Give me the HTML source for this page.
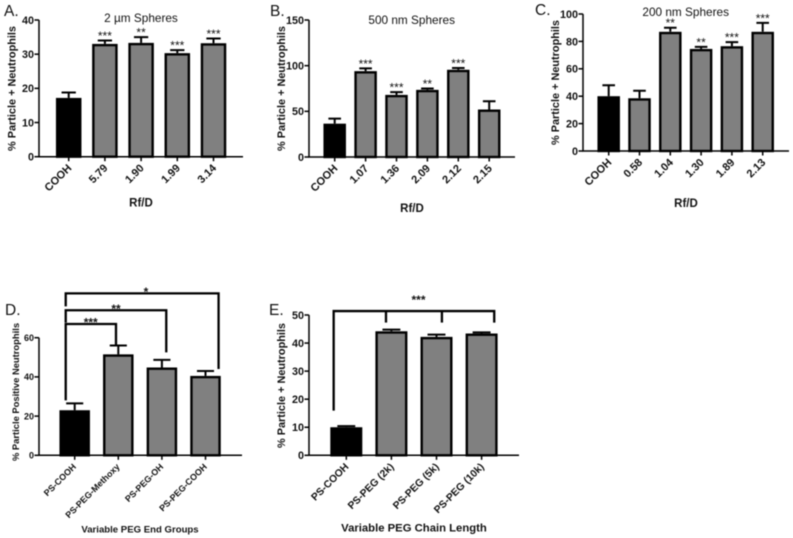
<!DOCTYPE html>
<html lang="en">
<head>
<meta charset="utf-8">
<title>Particle positive neutrophils by sphere type</title>
<style>
html,body{margin:0;padding:0;background:#fff;width:793px;height:538px;overflow:hidden}
svg{display:block;filter:blur(0.4px)}
text{font-family:"Liberation Sans",Arial,sans-serif;fill:#111}
</style>
</head>
<body>
<svg id="figure" xmlns="http://www.w3.org/2000/svg" width="793" height="538" viewBox="0 0 793 538"></svg>
<script>
// Panel A
const catsA = ["COOH", "5.79", "1.90", "1.99", "3.14"];
const valsA = [17.2, 33, 33.3, 30.3, 33.2];
const errsA = [18.8, 34, 35, 31.2, 34.6];
const starsA = ["", "***", "**", "***", "***"];
const ticksA = [0, 10, 20, 30, 40];
// Panel B
const catsB = ["COOH", "1.07", "1.36", "2.09", "2.12", "2.15"];
const valsB = [36.5, 94, 68, 73.5, 95.5, 52];
const errsB = [42, 97, 71, 75, 97.5, 61];
const starsB = ["", "***", "***", "**", "***", ""];
const ticksB = [0, 50, 100, 150];
// Panel C
const catsC = ["COOH", "0.58", "1.04", "1.30", "1.89", "2.13"];
const valsC = [40, 38.5, 87, 74.5, 76.5, 87];
const errsC = [48, 44, 90, 76, 79.5, 93.5];
const starsC = ["", "", "**", "**", "***", "***"];
const ticksC = [0, 20, 40, 60, 80, 100];
// Panel D
const catsD = ["PS-COOH", "PS-PEG-Methoxy", "PS-PEG-OH", "PS-PEG-COOH"];
const valsD = [23, 51.5, 44.8, 40.5];
const errsD = [26.5, 56, 48.7, 43];
const starsD = ["", "", "", ""];
const ticksD = [0, 20, 40, 60];
// Panel E
const catsE = ["PS-COOH", "PS-PEG (2k)", "PS-PEG (5k)", "PS-PEG (10k)"];
const valsE = [10, 44.2, 42.2, 43.4];
const errsE = [10.4, 44.8, 43, 43.8];
const starsE = ["", "", "", ""];
const ticksE = [0, 10, 20, 30, 40, 50];

const svg = document.getElementById('figure');
const NS = 'http://www.w3.org/2000/svg';

function make(tag, attrs, parent, txt) {
  const el = document.createElementNS(NS, tag);
  for (const k in attrs) el.setAttribute(k, attrs[k]);
  if (txt !== undefined) el.textContent = txt;
  parent.appendChild(el);
  return el;
}
function label(tag, attrs, parent, txt, name) {
  const el = make(tag, attrs, parent, txt);
  
  
  return el;
}

function drawPanel(p) {
  const g = make('g', {}, svg);
  
  
  const y = v => p.y0 + (p.yTop - p.y0) * v / p.max;
  const x = i => p.x0 + p.dx * i;
  p.xOf = x; p.yOf = y;

  label('text', {x: p.letter[0], y: p.letter[1], 'font-size': 15.5}, g, p.id + '.', 'panel-letter-' + p.id);
  if (p.title) label('text', {x: p.titleAt[0], y: p.titleAt[1], 'font-size': 11.8, 'text-anchor': 'middle', fill: '#222'}, g, p.title, 'chart-title-' + p.id);

  // bars
  p.vals.forEach((v, i) => {
    const top = y(p.errs[i]);
    const cap = p.barW * 0.28;
    const eb = make('path', {d: `M${x(i)} ${y(v)}V${top}M${x(i) - cap} ${top}H${x(i) + cap}`, fill: 'none', stroke: '#000', 'stroke-width': 2}, g);
    
    
    const b = make('rect', {x: x(i) - p.barW / 2 + 1.2, y: y(v) + 1.2, width: p.barW - 2.4, height: Math.max(0, p.y0 - y(v) - 1.2), fill: i === 0 ? '#000' : '#808080', stroke: '#000', 'stroke-width': 2.4}, g);
    
    
    if (p.stars[i]) label('text', {x: x(i), y: top - 0.5, 'font-size': 12, 'text-anchor': 'middle', fill: '#222'}, g, p.stars[i], 'significance-' + p.id + '-' + i);
  });

  // axes
  const ax = make('path', {d: `M${p.axisX} ${y(p.max)}V${p.y0}H${p.xEnd}`, fill: 'none', stroke: '#000', 'stroke-width': 1.5}, g);
  
  
  p.ticks.forEach(t => {
    const tk = make('line', {x1: p.axisX - 4.5, x2: p.axisX, y1: y(t), y2: y(t), stroke: '#000', 'stroke-width': 1.5}, g);
    
    
    label('text', {x: p.axisX - 5, y: y(t) + p.tickFont * 0.36, 'font-size': p.tickFont, 'font-weight': 'bold', 'text-anchor': 'end'}, g, t, 'y-tick-label-' + p.id + '-' + t);
  });
  p.cats.forEach((c, i) => {
    const tk = make('line', {x1: x(i), x2: x(i), y1: p.y0, y2: p.y0 + 4.5, stroke: '#000', 'stroke-width': 1.5}, g);
    
    
    const lx = x(i) + p.catShift, ly = p.y0 + 12;
    label('text', {x: lx, y: ly, 'font-size': p.catFont, 'font-weight': 'bold', 'text-anchor': 'end', transform: `rotate(-45 ${lx} ${ly})`}, g, c, 'x-tick-label-' + p.id + '-' + i);
  });

  const yl = p.ylabelAt;
  label('text', {x: yl[0], y: yl[1], 'font-size': p.ylabelFont, 'font-weight': 'bold', 'text-anchor': 'middle', transform: `rotate(-90 ${yl[0]} ${yl[1]})`}, g, p.ylabel, 'y-axis-title-' + p.id);
  label('text', {x: p.xlabelAt[0], y: p.xlabelAt[1], 'font-size': p.xlabelFont, 'font-weight': 'bold', 'text-anchor': 'middle'}, g, p.xlabel, 'x-axis-title-' + p.id);
  return g;
}

function bracket(p, g, level, leftI, leftEnd, rightI, rightEnd, name) {
  const Y = p.yOf(level), xa = p.xOf(leftI), xb = p.xOf(rightI);
  const b = make('path', {d: `M${xa} ${p.yOf(leftEnd)}V${Y}H${xb}V${p.yOf(rightEnd)}`, fill: 'none', stroke: '#000', 'stroke-width': 2.3}, g);
  
  
  return {xa, xb, Y};
}

drawPanel({id: 'A', cats: catsA, vals: valsA, errs: errsA, stars: starsA, ticks: ticksA, max: 40,
  x0: 68.7, dx: 36.2, barW: 25.5, axisX: 39, xEnd: 243, y0: 156.7, yTop: 20,
  letter: [4, 16], title: '2 \u00b5m Spheres', titleAt: [141, 22], tickFont: 10.8, catFont: 11, catShift: 3.5,
  ylabel: '% Particle + Neutrophils', ylabelAt: [15.5, 88.5], ylabelFont: 10.9,
  xlabel: 'Rf/D', xlabelAt: [141, 206.5], xlabelFont: 11.5});

drawPanel({id: 'B', cats: catsB, vals: valsB, errs: errsB, stars: starsB, ticks: ticksB, max: 150,
  x0: 334.7, dx: 30.9, barW: 22.5, axisX: 309, xEnd: 515, y0: 157, yTop: 20,
  letter: [270, 16], title: '500 nm Spheres', titleAt: [411.7, 24], tickFont: 10.8, catFont: 11, catShift: 3.5,
  ylabel: '% Particle + Neutrophils', ylabelAt: [285, 88.5], ylabelFont: 10.9,
  xlabel: 'Rf/D', xlabelAt: [412, 212], xlabelFont: 11.5});

drawPanel({id: 'C', cats: catsC, vals: valsC, errs: errsC, stars: starsC, ticks: ticksC, max: 100,
  x0: 608.7, dx: 30.8, barW: 22.5, axisX: 583, xEnd: 789, y0: 151, yTop: 14,
  letter: [535, 15], title: '200 nm Spheres', titleAt: [685.7, 16], tickFont: 10.8, catFont: 11, catShift: 3.5,
  ylabel: '% Particle + Neutrophils', ylabelAt: [559, 82.5], ylabelFont: 10.9,
  xlabel: 'Rf/D', xlabelAt: [686, 207], xlabelFont: 11.5});

const panelD = {id: 'D', cats: catsD, vals: valsD, errs: errsD, stars: starsD, ticks: ticksD, max: 60,
  x0: 74.7, dx: 43.6, barW: 30.5, axisX: 39, xEnd: 242, y0: 455.3, yTop: 337.7,
  letter: [5, 315], tickFont: 9, catFont: 8.9, catShift: 2,
  ylabel: '% Particle Positive Neutrophils', ylabelAt: [19, 392], ylabelFont: 9.4,
  xlabel: 'Variable PEG End Groups', xlabelAt: [140, 532.5], xlabelFont: 9.6};
const gD = drawPanel(panelD);

const panelE = {id: 'E', cats: catsE, vals: valsE, errs: errsE, stars: starsE, ticks: ticksE, max: 50,
  x0: 346.3, dx: 45.1, barW: 32, axisX: 309, xEnd: 519, y0: 455.3, yTop: 315,
  letter: [269, 315], tickFont: 10.8, catFont: 10.3, catShift: 3,
  ylabel: '% Particle + Neutrophils', ylabelAt: [285, 385.5], ylabelFont: 10.9,
  xlabel: 'Variable PEG Chain Length', xlabelAt: [414, 531.5], xlabelFont: 11.3};
const gE = drawPanel(panelE);

// Panel D significance brackets (levels in axis units, ends as category positions)
const bracketLevelsD = [82.6, 74, 67];
const bracketLeftEndsD = [76, 67.7, 28];
const bracketRightPosD = [3.3, 2.1, 0.947];
const bracketRightEndsD = [44, 52.5, 56];
const bracketMarksD = ["*", "**", "***"];
const bracketLeftPosD = -0.206;
bracketLevelsD.forEach((lv, i) => {
  const b = bracket(panelD, gD, lv, bracketLeftPosD, bracketLeftEndsD[i], bracketRightPosD[i], bracketRightEndsD[i], 'significance-bracket-D-' + i);
  label('text', {x: (i === 0 ? 146 : i === 1 ? 116 : 90.7), y: b.Y + 2.5, 'font-size': 12, 'font-weight': 'bold', 'text-anchor': 'middle', fill: '#222'}, gD, bracketMarksD[i], 'bracket-stars-D-' + i);
});

// Panel E significance bracket
const bracketLevelE = 51.4;
const bracketLeftEndE = 15.9;
const bracketDropEndE = 47.3;
const bracketDropPosE = [0.88, 2.12, 3.28];
const bracketLeftPosE = -0.28;
const be = bracket(panelE, gE, bracketLevelE, bracketLeftPosE, bracketLeftEndE, bracketDropPosE[2], bracketDropEndE, 'significance-bracket-E');
bracketDropPosE.slice(0, 2).forEach((pos, i) => {
  const d = make('line', {x1: panelE.xOf(pos), x2: panelE.xOf(pos), y1: be.Y, y2: panelE.yOf(bracketDropEndE), stroke: '#000', 'stroke-width': 2.3}, gE);
  
  
});
label('text', {x: 418.5, y: 304, 'font-size': 12, 'font-weight': 'bold', 'text-anchor': 'middle', fill: '#222'}, gE, '***', 'bracket-stars-E');
</script>
</body>
</html>
